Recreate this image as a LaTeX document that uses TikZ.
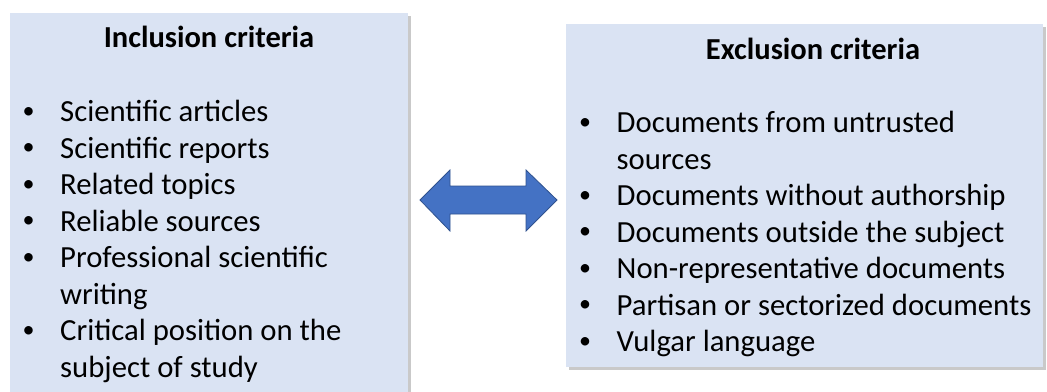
\documentclass[tikz,border=0pt]{standalone}
\usepackage{fontspec}
\setmainfont{Carlito}
\usepackage{tikz}
\usetikzlibrary{shadows, positioning}
\definecolor{boxblue}{HTML}{DAE3F3}
\definecolor{arrowblue}{HTML}{4472C4}
\definecolor{arrowline}{HTML}{2F528F}
\tikzstyle{critbox} = [rectangle, draw=none, fill=boxblue, inner sep=0pt, anchor=north west, drop shadow={shadow xshift=2.5pt, shadow yshift=-2.5pt, opacity=0.35, fill=black!60}]
\tikzstyle{crittitle} = [font=\fontsize{30.5}{36.5}\selectfont\bfseries, anchor=base, inner sep=0pt]
\tikzstyle{critlist} = [font=\fontsize{30.7}{36.5}\selectfont, align=left, anchor=north west, inner sep=0pt]
\tikzstyle{link} = [fill=arrowblue, draw=arrowline, line width=0.8pt, line join=miter]
\newcommand{\blt}{\makebox[37.5pt][l]{\raisebox{3.3pt}{\fontsize{24}{24}\selectfont\textbullet}}}
\newcommand{\cnt}{\hspace*{37.5pt}}

\begin{document}
\begin{tikzpicture}[x=1pt, y=-1pt]
  \useasboundingbox[fill=white] (0,0) rectangle (1047,391);
  \node (incl) [critbox, minimum width=398pt, minimum height=395pt] at (10,13) {};
  \node (excl) [critbox, minimum width=477pt, minimum height=343pt] at (566,24) {};
  \node (incltitle) [crittitle] at (209,47) {Inclusion criteria};
  \node (excltitle) [crittitle] at (813,59) {Exclusion criteria};
  \node (incllist) [critlist] at (22.5,100) {\blt Scientific articles\\
    \blt Scientific reports\\
    \blt Related topics\\
    \blt Reliable sources\\
    \blt Professional scientific\\
    \cnt writing\\
    \blt Critical position on the\\
    \cnt subject of study};
  \node (excllist) [critlist] at (579,111) {\blt Documents from untrusted\\
    \cnt sources\\
    \blt Documents without authorship\\
    \blt Documents outside the subject\\
    \blt Non-representative documents\\
    \blt Partisan or sectorized documents\\
    \blt Vulgar language};
  % two-way block arrow between the criteria
  \draw[link] (420,200) -- (450,170) -- (450,186) -- (526,186) -- (526,170)
    -- (557,200) -- (526,231) -- (526,214) -- (450,214) -- (450,231) -- cycle;
\end{tikzpicture}
\end{document}
